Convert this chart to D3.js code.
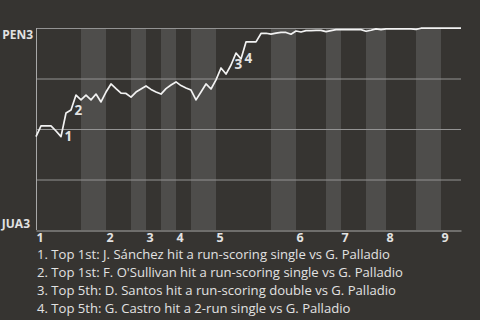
<!DOCTYPE html>
<html>
<head>
<meta charset="utf-8">
<script src="https://cdn.jsdelivr.net/npm/d3@7"></script>
<style>
    body { margin: 0; background: #363431; }
    svg text { font-family: 'Open Sans', sans-serif; fill: #e2e2e2; }
</style>
</head>
<body>
<div id="chart"></div>
<script>
// PEN3 win probability (%) after each plate appearance
var winProb = [
    46.2, 51.5, 51.5, 51.5, 49.0, 46.2, 57.9, 59.4, 66.8, 64.4,
    66.8, 64.4, 67.3, 63.4, 68.3, 72.3, 70.0, 67.8, 67.6, 65.8,
    68.3, 69.8, 71.3, 69.6, 68.3, 67.3, 70.0, 71.8, 73.3, 71.5,
    70.3, 69.3, 64.4, 68.3, 72.3, 69.8, 74.3, 80.2, 77.2, 81.7,
    87.6, 84.7, 93.1, 93.1, 93.1, 97.3, 97.4, 97.0, 97.5, 97.8,
    97.8, 96.9, 98.5, 98.0, 98.7, 98.7, 98.8, 98.8, 98.2, 98.7,
    99.2, 99.2, 99.2, 99.2, 99.2, 99.2, 98.4, 98.9, 99.6, 99.2,
    99.6, 99.6, 99.6, 99.6, 99.6, 99.6, 99.3, 99.9, 99.9, 99.9,
    99.9, 99.9, 99.9, 99.9, 99.9, 99.9
];
var innings = [1, 2, 3, 4, 5, 6, 7, 8, 9];
var topStarts = [0, 14, 22, 28, 36, 52, 61, 70, 81];
var bottomStarts = [9, 19, 25, 31, 47, 58, 66, 76];
var gridValues = [25, 50, 75, 100];
var teams = ['JUA3', 'PEN3'];
// index of the plate appearance where each numbered event happened
var eventAt = [6, 8, 40, 42];
var eventNotes = [
    'Top 1st: J. Sánchez hit a run-scoring single vs G. Palladio',
    "Top 1st: F. O'Sullivan hit a run-scoring single vs G. Palladio",
    'Top 5th: D. Santos hit a run-scoring double vs G. Palladio',
    'Top 5th: G. Castro hit a 2-run single vs G. Palladio'
];

var width = 480, height = 320;
var margin = {top: 28, right: 19, bottom: 90, left: 36};

var svg = d3.select('#chart').append('svg')
    .attr('width', width)
    .attr('height', height);

var x = d3.scaleLinear()
    .domain([0, winProb.length - 1])
    .range([margin.left, width - margin.right]);

var y = d3.scaleLinear()
    .domain([0, 100])
    .range([height - margin.bottom, margin.top]);

/* bottom halves of innings */
svg.append('g').selectAll('rect')
    .data(bottomStarts)
    .enter().append('rect')
    .attr('x', function (d) { return x(d); })
    .attr('y', y(100))
    .attr('width', function (d, i) { return x(topStarts[i + 1]) - x(d); })
    .attr('height', y(0) - y(100))
    .attr('fill', '#4e4d4b');

svg.append('g').selectAll('line')
    .data(gridValues)
    .enter().append('line')
    .attr('x1', x.range()[0])
    .attr('x2', x.range()[1])
    .attr('y1', function (d) { return y(d) + 0.5; })
    .attr('y2', function (d) { return y(d) + 0.5; })
    .attr('stroke', '#939393')
    .attr('stroke-width', 1);

svg.append('line')
    .attr('x1', x(0) + 0.5).attr('x2', x(0) + 0.5)
    .attr('y1', y(100)).attr('y2', y(0))
    .attr('stroke', '#a8a8a8');

var xAxis = d3.axisBottom(x)
    .tickValues(topStarts)
    .tickFormat(function (d, i) { return innings[i]; })
    .tickSize(0);

var gx = svg.append('g')
    .attr('transform', 'translate(0,' + (y(0) + 0.5) + ')')
    .call(xAxis);
gx.select('.domain').attr('stroke', '#a8a8a8');
gx.selectAll('text')
    .attr('text-anchor', 'start')
    .attr('dy', null)
    .attr('y', 11.5)
    .style('font-family', "'Open Sans', sans-serif")
    .style('font-size', '12.5px')
    .style('font-weight', 'bold')
    .attr('fill', '#e2e2e2');

svg.append('text')
    .attr('x', margin.left - 3)
    .attr('y', y(100) + 11)
    .attr('text-anchor', 'end')
    .style('font-size', '12px')
    .style('font-weight', 'bold')
    .text(teams[1]);

svg.append('text')
    .attr('x', margin.left - 6)
    .attr('y', y(0) - 2.5)
    .attr('text-anchor', 'end')
    .style('font-size', '12px')
    .style('font-weight', 'bold')
    .text(teams[0]);

var line = d3.line()
    .x(function (d, i) { return x(i); })
    .y(function (d) { return y(d); });

svg.append('path')
    .datum(winProb)
    .attr('d', line)
    .attr('fill', 'none')
    .attr('stroke', '#f2f2f2')
    .attr('stroke-width', 1.7)
    .attr('stroke-linejoin', 'round');

svg.append('g').selectAll('text')
    .data(eventAt)
    .enter().append('text')
    .attr('x', function (d) { return x(d - 1) + 3.5; })
    .attr('y', function (d) { return y(winProb[d - 1]) + 4.5; })
    .style('font-size', '13.5px')
    .style('font-weight', 'bold')
    .text(function (d, i) { return i + 1; });

svg.append('g').selectAll('text')
    .data(eventNotes)
    .enter().append('text')
    .attr('x', 37)
    .attr('y', function (d, i) { return 258.5 + i * 18; })
    .style('font-size', '13.1px')
    .text(function (d, i) { return (i + 1) + '. ' + d; });
</script>
</body>
</html>
